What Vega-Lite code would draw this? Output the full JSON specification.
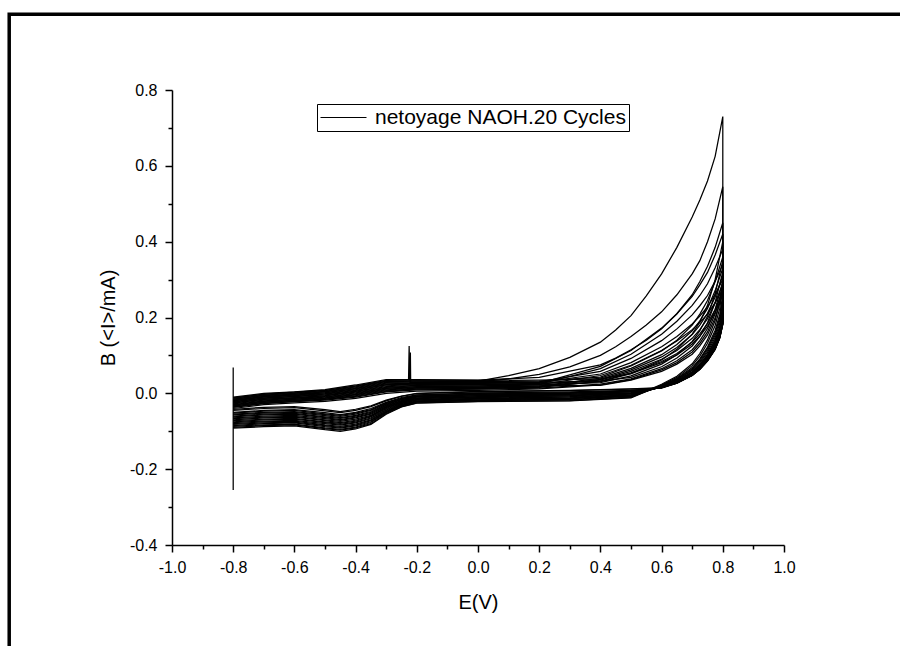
{
"$schema":"https://vega.github.io/schema/vega-lite/v6.json",
"width":612,"height":455,
"autosize":"none",
"padding":{"left":172,"top":90,"right":116,"bottom":101},
"background":"white",
"config":{"view":{"stroke":null},"font":"Liberation Sans"},
"resolve":{"axis":{"x":"independent","y":"independent"}},
"layer":[
{"data":{"values":[{"x1":-1.532,"x2":3,"y1":0.9997,"y2":-3}]},
 "mark":{"type":"rect","fillOpacity":0,"stroke":"black","strokeWidth":3.5},
 "encoding":{
  "x":{"field":"x1","type":"quantitative","scale":{"domain":[-1,1],"nice":false,"zero":false},
   "axis":{"orient":"bottom","values":[-0.9,-0.7,-0.5,-0.3,-0.1,0.1,0.3,0.5,0.7,0.9],"labels":false,"tickSize":4,"tickWidth":1.5,"tickColor":"black","domain":false,"grid":false,"title":null}},
  "x2":{"field":"x2"},
  "y":{"field":"y1","type":"quantitative","scale":{"domain":[-0.4,0.8],"nice":false,"zero":false},
   "axis":{"orient":"left","values":[-0.3,-0.1,0.1,0.3,0.5,0.7],"labels":false,"tickSize":4,"tickWidth":1.5,"tickColor":"black","domain":false,"grid":false,"title":null}},
  "y2":{"field":"y2"}
 }},
{"data":{"values":[
{"c":1,"i":0,"E":-0.8,"I":-0.255},{"c":1,"i":0.5,"E":-0.8,"I":0.068},
{"c":1,"i":1,"E":-0.8,"I":-0.013},{"c":1,"i":2,"E":-0.7,"I":-0.003},{"c":1,"i":3,"E":-0.6,"I":0.001},{"c":1,"i":4,"E":-0.5,"I":0.007},{"c":1,"i":5,"E":-0.4,"I":0.019},{"c":1,"i":6,"E":-0.3,"I":0.032},{"c":1,"i":7,"E":-0.2,"I":0.033},{"c":1,"i":8,"E":0,"I":0.032},{"c":1,"i":8.5,"E":0.1,"I":0.047},{"c":1,"i":9,"E":0.2,"I":0.065},{"c":1,"i":9.5,"E":0.3,"I":0.095},{"c":1,"i":10,"E":0.4,"I":0.135},{"c":1,"i":10.5,"E":0.45,"I":0.167},{"c":1,"i":11,"E":0.5,"I":0.205},{"c":1,"i":11.5,"E":0.55,"I":0.257},{"c":1,"i":12,"E":0.6,"I":0.315},{"c":1,"i":13,"E":0.65,"I":0.385},{"c":1,"i":14,"E":0.7,"I":0.465},{"c":1,"i":15,"E":0.725,"I":0.51},{"c":1,"i":16,"E":0.75,"I":0.56},{"c":1,"i":17,"E":0.775,"I":0.625},{"c":1,"i":18,"E":0.8,"I":0.73},
{"c":1,"i":19,"E":0.8,"I":0.30},{"c":1,"i":20,"E":0.79,"I":0.24},{"c":1,"i":21,"E":0.775,"I":0.192},{"c":1,"i":22,"E":0.75,"I":0.141},{"c":1,"i":23,"E":0.725,"I":0.105},{"c":1,"i":24,"E":0.7,"I":0.078},{"c":1,"i":25,"E":0.65,"I":0.045},{"c":1,"i":26,"E":0.6,"I":0.024},{"c":1,"i":27,"E":0.5,"I":-0.011},{"c":1,"i":28,"E":0.3,"I":-0.019},{"c":1,"i":29,"E":0,"I":-0.021},{"c":1,"i":30,"E":-0.2,"I":-0.025},{"c":1,"i":30.5,"E":-0.25,"I":-0.035},{"c":1,"i":31,"E":-0.3,"I":-0.053},{"c":1,"i":32,"E":-0.35,"I":-0.080},{"c":1,"i":33,"E":-0.4,"I":-0.091},{"c":1,"i":34,"E":-0.45,"I":-0.097},{"c":1,"i":35,"E":-0.5,"I":-0.093},{"c":1,"i":36,"E":-0.6,"I":-0.083},{"c":1,"i":37,"E":-0.7,"I":-0.085},{"c":1,"i":38,"E":-0.8,"I":-0.090},
{"c":2,"i":1,"E":-0.8,"I":-0.016},{"c":2,"i":2,"E":-0.7,"I":-0.006},{"c":2,"i":3,"E":-0.6,"I":-0.002},{"c":2,"i":4,"E":-0.5,"I":0.004},{"c":2,"i":5,"E":-0.4,"I":0.015},{"c":2,"i":6,"E":-0.3,"I":0.029},{"c":2,"i":7,"E":-0.2,"I":0.030},{"c":2,"i":8,"E":0,"I":0.030},{"c":2,"i":8.5,"E":0.1,"I":0.038},{"c":2,"i":9,"E":0.2,"I":0.05},{"c":2,"i":9.5,"E":0.3,"I":0.07},{"c":2,"i":10,"E":0.4,"I":0.10},{"c":2,"i":10.5,"E":0.45,"I":0.123},{"c":2,"i":11,"E":0.5,"I":0.15},{"c":2,"i":11.5,"E":0.55,"I":0.18},{"c":2,"i":12,"E":0.6,"I":0.215},{"c":2,"i":13,"E":0.65,"I":0.26},{"c":2,"i":14,"E":0.7,"I":0.315},{"c":2,"i":15,"E":0.725,"I":0.35},{"c":2,"i":16,"E":0.75,"I":0.40},{"c":2,"i":17,"E":0.775,"I":0.46},{"c":2,"i":18,"E":0.8,"I":0.545},
{"c":2,"i":19,"E":0.8,"I":0.28},{"c":2,"i":20,"E":0.79,"I":0.224},{"c":2,"i":21,"E":0.775,"I":0.179},{"c":2,"i":22,"E":0.75,"I":0.132},{"c":2,"i":23,"E":0.725,"I":0.098},{"c":2,"i":24,"E":0.7,"I":0.073},{"c":2,"i":25,"E":0.65,"I":0.042},{"c":2,"i":26,"E":0.6,"I":0.022},{"c":2,"i":27,"E":0.5,"I":-0.012},{"c":2,"i":28,"E":0.3,"I":-0.020},{"c":2,"i":29,"E":0,"I":-0.022},{"c":2,"i":30,"E":-0.2,"I":-0.026},{"c":2,"i":30.5,"E":-0.25,"I":-0.036},{"c":2,"i":31,"E":-0.3,"I":-0.055},{"c":2,"i":32,"E":-0.35,"I":-0.082},{"c":2,"i":33,"E":-0.4,"I":-0.094},{"c":2,"i":34,"E":-0.45,"I":-0.100},{"c":2,"i":35,"E":-0.5,"I":-0.096},{"c":2,"i":36,"E":-0.6,"I":-0.086},{"c":2,"i":37,"E":-0.7,"I":-0.088},{"c":2,"i":38,"E":-0.8,"I":-0.092},
{"c":3,"i":1,"E":-0.8,"I":-0.010},{"c":3,"i":2,"E":-0.7,"I":0.000},{"c":3,"i":3,"E":-0.6,"I":0.004},{"c":3,"i":4,"E":-0.5,"I":0.010},{"c":3,"i":5,"E":-0.4,"I":0.022},{"c":3,"i":6,"E":-0.3,"I":0.036},{"c":3,"i":7,"E":-0.2,"I":0.036},{"c":3,"i":8,"E":0,"I":0.035},{"c":3,"i":9,"E":0.2,"I":0.042},{"c":3,"i":10,"E":0.4,"I":0.075},{"c":3,"i":10.5,"E":0.45,"I":0.093},{"c":3,"i":11,"E":0.5,"I":0.115},{"c":3,"i":11.5,"E":0.55,"I":0.14},{"c":3,"i":12,"E":0.6,"I":0.17},{"c":3,"i":13,"E":0.65,"I":0.21},{"c":3,"i":14,"E":0.7,"I":0.26},{"c":3,"i":15,"E":0.725,"I":0.295},{"c":3,"i":16,"E":0.75,"I":0.335},{"c":3,"i":17,"E":0.775,"I":0.385},{"c":3,"i":18,"E":0.8,"I":0.45},
{"c":3,"i":19,"E":0.8,"I":0.26},{"c":3,"i":20,"E":0.79,"I":0.208},{"c":3,"i":21,"E":0.775,"I":0.166},{"c":3,"i":22,"E":0.75,"I":0.122},{"c":3,"i":23,"E":0.725,"I":0.091},{"c":3,"i":24,"E":0.7,"I":0.068},{"c":3,"i":25,"E":0.65,"I":0.039},{"c":3,"i":26,"E":0.6,"I":0.021},{"c":3,"i":27,"E":0.5,"I":-0.008},{"c":3,"i":28,"E":0.3,"I":-0.016},{"c":3,"i":29,"E":0,"I":-0.018},{"c":3,"i":30,"E":-0.2,"I":-0.022},{"c":3,"i":30.5,"E":-0.25,"I":-0.032},{"c":3,"i":31,"E":-0.3,"I":-0.049},{"c":3,"i":32,"E":-0.35,"I":-0.075},{"c":3,"i":33,"E":-0.4,"I":-0.086},{"c":3,"i":34,"E":-0.45,"I":-0.092},{"c":3,"i":35,"E":-0.5,"I":-0.088},{"c":3,"i":36,"E":-0.6,"I":-0.078},{"c":3,"i":37,"E":-0.7,"I":-0.080},{"c":3,"i":38,"E":-0.8,"I":-0.085},
{"c":4,"i":1,"E":-0.8,"I":-0.022},{"c":4,"i":2,"E":-0.7,"I":-0.012},{"c":4,"i":3,"E":-0.6,"I":-0.008},{"c":4,"i":4,"E":-0.5,"I":-0.002},{"c":4,"i":5,"E":-0.4,"I":0.008},{"c":4,"i":6,"E":-0.3,"I":0.022},{"c":4,"i":7,"E":-0.2,"I":0.024},{"c":4,"i":8,"E":0,"I":0.024},{"c":4,"i":9,"E":0.2,"I":0.026},{"c":4,"i":10,"E":0.4,"I":0.071},{"c":4,"i":11,"E":0.5,"I":0.113},{"c":4,"i":12,"E":0.6,"I":0.172},{"c":4,"i":13,"E":0.65,"I":0.21},{"c":4,"i":14,"E":0.7,"I":0.256},{"c":4,"i":15,"E":0.725,"I":0.286},{"c":4,"i":16,"E":0.75,"I":0.319},{"c":4,"i":17,"E":0.775,"I":0.365},{"c":4,"i":18,"E":0.8,"I":0.42},
{"c":4,"i":19,"E":0.8,"I":0.25},{"c":4,"i":20,"E":0.79,"I":0.20},{"c":4,"i":21,"E":0.775,"I":0.16},{"c":4,"i":22,"E":0.75,"I":0.118},{"c":4,"i":23,"E":0.725,"I":0.088},{"c":4,"i":24,"E":0.7,"I":0.065},{"c":4,"i":25,"E":0.65,"I":0.038},{"c":4,"i":26,"E":0.6,"I":0.02},{"c":4,"i":27,"E":0.5,"I":-0.010},{"c":4,"i":28,"E":0.3,"I":-0.017},{"c":4,"i":29,"E":0,"I":-0.019},{"c":4,"i":30,"E":-0.2,"I":-0.023},{"c":4,"i":30.5,"E":-0.25,"I":-0.033},{"c":4,"i":31,"E":-0.3,"I":-0.051},{"c":4,"i":32,"E":-0.35,"I":-0.077},{"c":4,"i":33,"E":-0.4,"I":-0.089},{"c":4,"i":34,"E":-0.45,"I":-0.095},{"c":4,"i":35,"E":-0.5,"I":-0.091},{"c":4,"i":36,"E":-0.6,"I":-0.081},{"c":4,"i":37,"E":-0.7,"I":-0.083},{"c":4,"i":38,"E":-0.8,"I":-0.087},
{"c":5,"i":1,"E":-0.8,"I":-0.012},{"c":5,"i":2,"E":-0.7,"I":-0.002},{"c":5,"i":3,"E":-0.6,"I":0.003},{"c":5,"i":4,"E":-0.5,"I":0.008},{"c":5,"i":5,"E":-0.4,"I":0.020},{"c":5,"i":6,"E":-0.3,"I":0.034},{"c":5,"i":6.3,"E":-0.227,"I":0.035},{"c":5,"i":6.5,"E":-0.225,"I":0.125},{"c":5,"i":6.7,"E":-0.223,"I":0.035},{"c":5,"i":7,"E":-0.2,"I":0.035},{"c":5,"i":8,"E":0,"I":0.034},{"c":5,"i":9,"E":0.2,"I":0.035},{"c":5,"i":10,"E":0.4,"I":0.038},{"c":5,"i":11,"E":0.5,"I":0.052},{"c":5,"i":12,"E":0.6,"I":0.088},{"c":5,"i":13,"E":0.65,"I":0.116},{"c":5,"i":14,"E":0.7,"I":0.156},{"c":5,"i":15,"E":0.725,"I":0.188},{"c":5,"i":16,"E":0.75,"I":0.232},{"c":5,"i":17,"E":0.775,"I":0.30},{"c":5,"i":18,"E":0.8,"I":0.40},
{"c":5,"i":19,"E":0.8,"I":0.24},{"c":5,"i":20,"E":0.79,"I":0.192},{"c":5,"i":21,"E":0.775,"I":0.154},{"c":5,"i":22,"E":0.75,"I":0.113},{"c":5,"i":23,"E":0.725,"I":0.084},{"c":5,"i":24,"E":0.7,"I":0.062},{"c":5,"i":25,"E":0.65,"I":0.036},{"c":5,"i":26,"E":0.6,"I":0.019},{"c":5,"i":27,"E":0.5,"I":-0.006},{"c":5,"i":28,"E":0.3,"I":-0.013},{"c":5,"i":29,"E":0,"I":-0.015},{"c":5,"i":30,"E":-0.2,"I":-0.020},{"c":5,"i":30.5,"E":-0.25,"I":-0.029},{"c":5,"i":31,"E":-0.3,"I":-0.046},{"c":5,"i":32,"E":-0.35,"I":-0.070},{"c":5,"i":33,"E":-0.4,"I":-0.081},{"c":5,"i":34,"E":-0.45,"I":-0.087},{"c":5,"i":35,"E":-0.5,"I":-0.083},{"c":5,"i":36,"E":-0.6,"I":-0.073},{"c":5,"i":37,"E":-0.7,"I":-0.075},{"c":5,"i":38,"E":-0.8,"I":-0.080},
{"c":6,"i":1,"E":-0.8,"I":-0.025},{"c":6,"i":2,"E":-0.7,"I":-0.015},{"c":6,"i":3,"E":-0.6,"I":-0.011},{"c":6,"i":4,"E":-0.5,"I":-0.006},{"c":6,"i":5,"E":-0.4,"I":0.005},{"c":6,"i":6,"E":-0.3,"I":0.018},{"c":6,"i":7,"E":-0.2,"I":0.021},{"c":6,"i":8,"E":0,"I":0.022},{"c":6,"i":9,"E":0.2,"I":0.024},{"c":6,"i":10,"E":0.4,"I":0.065},{"c":6,"i":11,"E":0.5,"I":0.103},{"c":6,"i":12,"E":0.6,"I":0.156},{"c":6,"i":13,"E":0.65,"I":0.19},{"c":6,"i":14,"E":0.7,"I":0.232},{"c":6,"i":15,"E":0.725,"I":0.258},{"c":6,"i":16,"E":0.75,"I":0.289},{"c":6,"i":17,"E":0.775,"I":0.331},{"c":6,"i":18,"E":0.8,"I":0.38},
{"c":6,"i":19,"E":0.8,"I":0.23},{"c":6,"i":20,"E":0.79,"I":0.184},{"c":6,"i":21,"E":0.775,"I":0.147},{"c":6,"i":22,"E":0.75,"I":0.108},{"c":6,"i":23,"E":0.725,"I":0.081},{"c":6,"i":24,"E":0.7,"I":0.060},{"c":6,"i":25,"E":0.65,"I":0.035},{"c":6,"i":26,"E":0.6,"I":0.018},{"c":6,"i":27,"E":0.5,"I":-0.007},{"c":6,"i":28,"E":0.3,"I":-0.014},{"c":6,"i":29,"E":0,"I":-0.017},{"c":6,"i":30,"E":-0.2,"I":-0.021},{"c":6,"i":30.5,"E":-0.25,"I":-0.030},{"c":6,"i":31,"E":-0.3,"I":-0.048},{"c":6,"i":32,"E":-0.35,"I":-0.072},{"c":6,"i":33,"E":-0.4,"I":-0.084},{"c":6,"i":34,"E":-0.45,"I":-0.090},{"c":6,"i":35,"E":-0.5,"I":-0.085},{"c":6,"i":36,"E":-0.6,"I":-0.076},{"c":6,"i":37,"E":-0.7,"I":-0.078},{"c":6,"i":38,"E":-0.8,"I":-0.082},
{"c":7,"i":1,"E":-0.8,"I":-0.015},{"c":7,"i":2,"E":-0.7,"I":-0.005},{"c":7,"i":3,"E":-0.6,"I":0.000},{"c":7,"i":4,"E":-0.5,"I":0.005},{"c":7,"i":5,"E":-0.4,"I":0.017},{"c":7,"i":6,"E":-0.3,"I":0.031},{"c":7,"i":7,"E":-0.2,"I":0.032},{"c":7,"i":8,"E":0,"I":0.031},{"c":7,"i":9,"E":0.2,"I":0.032},{"c":7,"i":10,"E":0.4,"I":0.043},{"c":7,"i":11,"E":0.5,"I":0.072},{"c":7,"i":12,"E":0.6,"I":0.112},{"c":7,"i":13,"E":0.65,"I":0.14},{"c":7,"i":14,"E":0.7,"I":0.18},{"c":7,"i":15,"E":0.725,"I":0.209},{"c":7,"i":16,"E":0.75,"I":0.245},{"c":7,"i":17,"E":0.775,"I":0.295},{"c":7,"i":18,"E":0.8,"I":0.36},
{"c":7,"i":19,"E":0.8,"I":0.22},{"c":7,"i":20,"E":0.79,"I":0.176},{"c":7,"i":21,"E":0.775,"I":0.141},{"c":7,"i":22,"E":0.75,"I":0.103},{"c":7,"i":23,"E":0.725,"I":0.077},{"c":7,"i":24,"E":0.7,"I":0.057},{"c":7,"i":25,"E":0.65,"I":0.033},{"c":7,"i":26,"E":0.6,"I":0.018},{"c":7,"i":27,"E":0.5,"I":-0.004},{"c":7,"i":28,"E":0.3,"I":-0.010},{"c":7,"i":29,"E":0,"I":-0.013},{"c":7,"i":30,"E":-0.2,"I":-0.017},{"c":7,"i":30.5,"E":-0.25,"I":-0.026},{"c":7,"i":31,"E":-0.3,"I":-0.042},{"c":7,"i":32,"E":-0.35,"I":-0.065},{"c":7,"i":33,"E":-0.4,"I":-0.076},{"c":7,"i":34,"E":-0.45,"I":-0.082},{"c":7,"i":35,"E":-0.5,"I":-0.077},{"c":7,"i":36,"E":-0.6,"I":-0.068},{"c":7,"i":37,"E":-0.7,"I":-0.070},{"c":7,"i":38,"E":-0.8,"I":-0.075},
{"c":8,"i":1,"E":-0.8,"I":-0.028},{"c":8,"i":2,"E":-0.7,"I":-0.018},{"c":8,"i":3,"E":-0.6,"I":-0.013},{"c":8,"i":4,"E":-0.5,"I":-0.009},{"c":8,"i":5,"E":-0.4,"I":0.001},{"c":8,"i":6,"E":-0.3,"I":0.014},{"c":8,"i":7,"E":-0.2,"I":0.018},{"c":8,"i":8,"E":0,"I":0.019},{"c":8,"i":9,"E":0.2,"I":0.022},{"c":8,"i":10,"E":0.4,"I":0.028},{"c":8,"i":11,"E":0.5,"I":0.046},{"c":8,"i":12,"E":0.6,"I":0.077},{"c":8,"i":13,"E":0.65,"I":0.102},{"c":8,"i":14,"E":0.7,"I":0.137},{"c":8,"i":15,"E":0.725,"I":0.165},{"c":8,"i":16,"E":0.75,"I":0.203},{"c":8,"i":17,"E":0.775,"I":0.263},{"c":8,"i":18,"E":0.8,"I":0.35},
{"c":8,"i":19,"E":0.8,"I":0.215},{"c":8,"i":20,"E":0.79,"I":0.172},{"c":8,"i":21,"E":0.775,"I":0.138},{"c":8,"i":22,"E":0.75,"I":0.101},{"c":8,"i":23,"E":0.725,"I":0.075},{"c":8,"i":24,"E":0.7,"I":0.056},{"c":8,"i":25,"E":0.65,"I":0.032},{"c":8,"i":26,"E":0.6,"I":0.017},{"c":8,"i":27,"E":0.5,"I":-0.005},{"c":8,"i":28,"E":0.3,"I":-0.012},{"c":8,"i":29,"E":0,"I":-0.014},{"c":8,"i":30,"E":-0.2,"I":-0.018},{"c":8,"i":30.5,"E":-0.25,"I":-0.027},{"c":8,"i":31,"E":-0.3,"I":-0.044},{"c":8,"i":32,"E":-0.35,"I":-0.067},{"c":8,"i":33,"E":-0.4,"I":-0.078},{"c":8,"i":34,"E":-0.45,"I":-0.084},{"c":8,"i":35,"E":-0.5,"I":-0.080},{"c":8,"i":36,"E":-0.6,"I":-0.071},{"c":8,"i":37,"E":-0.7,"I":-0.073},{"c":8,"i":38,"E":-0.8,"I":-0.077},
{"c":9,"i":1,"E":-0.8,"I":-0.018},{"c":9,"i":2,"E":-0.7,"I":-0.008},{"c":9,"i":3,"E":-0.6,"I":-0.003},{"c":9,"i":4,"E":-0.5,"I":0.002},{"c":9,"i":5,"E":-0.4,"I":0.013},{"c":9,"i":6,"E":-0.3,"I":0.027},{"c":9,"i":6.3,"E":-0.222,"I":0.028},{"c":9,"i":6.5,"E":-0.221,"I":0.108},{"c":9,"i":6.7,"E":-0.22,"I":0.028},{"c":9,"i":7,"E":-0.2,"I":0.029},{"c":9,"i":8,"E":0,"I":0.028},{"c":9,"i":9,"E":0.2,"I":0.030},{"c":9,"i":10,"E":0.4,"I":0.058},{"c":9,"i":11,"E":0.5,"I":0.092},{"c":9,"i":12,"E":0.6,"I":0.139},{"c":9,"i":13,"E":0.65,"I":0.17},{"c":9,"i":14,"E":0.7,"I":0.207},{"c":9,"i":15,"E":0.725,"I":0.231},{"c":9,"i":16,"E":0.75,"I":0.258},{"c":9,"i":17,"E":0.775,"I":0.296},{"c":9,"i":18,"E":0.8,"I":0.34},
{"c":9,"i":19,"E":0.8,"I":0.21},{"c":9,"i":20,"E":0.79,"I":0.168},{"c":9,"i":21,"E":0.775,"I":0.134},{"c":9,"i":22,"E":0.75,"I":0.099},{"c":9,"i":23,"E":0.725,"I":0.074},{"c":9,"i":24,"E":0.7,"I":0.055},{"c":9,"i":25,"E":0.65,"I":0.032},{"c":9,"i":26,"E":0.6,"I":0.017},{"c":9,"i":27,"E":0.5,"I":-0.001},{"c":9,"i":28,"E":0.3,"I":-0.007},{"c":9,"i":29,"E":0,"I":-0.010},{"c":9,"i":30,"E":-0.2,"I":-0.014},{"c":9,"i":30.5,"E":-0.25,"I":-0.023},{"c":9,"i":31,"E":-0.3,"I":-0.038},{"c":9,"i":32,"E":-0.35,"I":-0.060},{"c":9,"i":33,"E":-0.4,"I":-0.071},{"c":9,"i":34,"E":-0.45,"I":-0.077},{"c":9,"i":35,"E":-0.5,"I":-0.072},{"c":9,"i":36,"E":-0.6,"I":-0.063},{"c":9,"i":37,"E":-0.7,"I":-0.065},{"c":9,"i":38,"E":-0.8,"I":-0.070},
{"c":10,"i":1,"E":-0.8,"I":-0.031},{"c":10,"i":2,"E":-0.7,"I":-0.021},{"c":10,"i":3,"E":-0.6,"I":-0.016},{"c":10,"i":4,"E":-0.5,"I":-0.012},{"c":10,"i":5,"E":-0.4,"I":-0.003},{"c":10,"i":6,"E":-0.3,"I":0.011},{"c":10,"i":7,"E":-0.2,"I":0.015},{"c":10,"i":8,"E":0,"I":0.016},{"c":10,"i":9,"E":0.2,"I":0.019},{"c":10,"i":10,"E":0.4,"I":0.04},{"c":10,"i":11,"E":0.5,"I":0.066},{"c":10,"i":12,"E":0.6,"I":0.102},{"c":10,"i":13,"E":0.65,"I":0.129},{"c":10,"i":14,"E":0.7,"I":0.165},{"c":10,"i":15,"E":0.725,"I":0.191},{"c":10,"i":16,"E":0.75,"I":0.224},{"c":10,"i":17,"E":0.775,"I":0.271},{"c":10,"i":18,"E":0.8,"I":0.33},
{"c":10,"i":19,"E":0.8,"I":0.205},{"c":10,"i":20,"E":0.79,"I":0.164},{"c":10,"i":21,"E":0.775,"I":0.131},{"c":10,"i":22,"E":0.75,"I":0.096},{"c":10,"i":23,"E":0.725,"I":0.072},{"c":10,"i":24,"E":0.7,"I":0.053},{"c":10,"i":25,"E":0.65,"I":0.031},{"c":10,"i":26,"E":0.6,"I":0.016},{"c":10,"i":27,"E":0.5,"I":-0.002},{"c":10,"i":28,"E":0.3,"I":-0.009},{"c":10,"i":29,"E":0,"I":-0.011},{"c":10,"i":30,"E":-0.2,"I":-0.016},{"c":10,"i":30.5,"E":-0.25,"I":-0.024},{"c":10,"i":31,"E":-0.3,"I":-0.040},{"c":10,"i":32,"E":-0.35,"I":-0.062},{"c":10,"i":33,"E":-0.4,"I":-0.073},{"c":10,"i":34,"E":-0.45,"I":-0.079},{"c":10,"i":35,"E":-0.5,"I":-0.075},{"c":10,"i":36,"E":-0.6,"I":-0.066},{"c":10,"i":37,"E":-0.7,"I":-0.068},{"c":10,"i":38,"E":-0.8,"I":-0.072},
{"c":11,"i":1,"E":-0.8,"I":-0.019},{"c":11,"i":2,"E":-0.7,"I":-0.009},{"c":11,"i":3,"E":-0.6,"I":-0.005},{"c":11,"i":4,"E":-0.5,"I":0.001},{"c":11,"i":5,"E":-0.4,"I":0.012},{"c":11,"i":6,"E":-0.3,"I":0.025},{"c":11,"i":7,"E":-0.2,"I":0.027},{"c":11,"i":8,"E":0,"I":0.027},{"c":11,"i":9,"E":0.2,"I":0.029},{"c":11,"i":10,"E":0.4,"I":0.032},{"c":11,"i":11,"E":0.5,"I":0.042},{"c":11,"i":12,"E":0.6,"I":0.07},{"c":11,"i":13,"E":0.65,"I":0.093},{"c":11,"i":14,"E":0.7,"I":0.125},{"c":11,"i":15,"E":0.725,"I":0.15},{"c":11,"i":16,"E":0.75,"I":0.186},{"c":11,"i":17,"E":0.775,"I":0.24},{"c":11,"i":18,"E":0.8,"I":0.32},
{"c":11,"i":19,"E":0.8,"I":0.20},{"c":11,"i":20,"E":0.79,"I":0.16},{"c":11,"i":21,"E":0.775,"I":0.128},{"c":11,"i":22,"E":0.75,"I":0.094},{"c":11,"i":23,"E":0.725,"I":0.07},{"c":11,"i":24,"E":0.7,"I":0.052},{"c":11,"i":25,"E":0.65,"I":0.03},{"c":11,"i":26,"E":0.6,"I":0.016},{"c":11,"i":27,"E":0.5,"I":0.001},{"c":11,"i":28,"E":0.3,"I":-0.005},{"c":11,"i":29,"E":0,"I":-0.007},{"c":11,"i":30,"E":-0.2,"I":-0.012},{"c":11,"i":30.5,"E":-0.25,"I":-0.020},{"c":11,"i":31,"E":-0.3,"I":-0.035},{"c":11,"i":32,"E":-0.35,"I":-0.055},{"c":11,"i":33,"E":-0.4,"I":-0.065},{"c":11,"i":34,"E":-0.45,"I":-0.071},{"c":11,"i":35,"E":-0.5,"I":-0.067},{"c":11,"i":36,"E":-0.6,"I":-0.058},{"c":11,"i":37,"E":-0.7,"I":-0.060},{"c":11,"i":38,"E":-0.8,"I":-0.065},
{"c":12,"i":1,"E":-0.8,"I":-0.034},{"c":12,"i":2,"E":-0.7,"I":-0.024},{"c":12,"i":3,"E":-0.6,"I":-0.019},{"c":12,"i":4,"E":-0.5,"I":-0.015},{"c":12,"i":5,"E":-0.4,"I":-0.006},{"c":12,"i":6,"E":-0.3,"I":0.007},{"c":12,"i":7,"E":-0.2,"I":0.012},{"c":12,"i":8,"E":0,"I":0.013},{"c":12,"i":9,"E":0.2,"I":0.017},{"c":12,"i":10,"E":0.4,"I":0.037},{"c":12,"i":11,"E":0.5,"I":0.062},{"c":12,"i":12,"E":0.6,"I":0.096},{"c":12,"i":13,"E":0.65,"I":0.121},{"c":12,"i":14,"E":0.7,"I":0.155},{"c":12,"i":15,"E":0.725,"I":0.18},{"c":12,"i":16,"E":0.75,"I":0.211},{"c":12,"i":17,"E":0.775,"I":0.254},{"c":12,"i":18,"E":0.8,"I":0.31},
{"c":12,"i":19,"E":0.8,"I":0.195},{"c":12,"i":20,"E":0.79,"I":0.156},{"c":12,"i":21,"E":0.775,"I":0.125},{"c":12,"i":22,"E":0.75,"I":0.092},{"c":12,"i":23,"E":0.725,"I":0.068},{"c":12,"i":24,"E":0.7,"I":0.051},{"c":12,"i":25,"E":0.65,"I":0.029},{"c":12,"i":26,"E":0.6,"I":0.016},{"c":12,"i":27,"E":0.5,"I":0.000},{"c":12,"i":28,"E":0.3,"I":-0.006},{"c":12,"i":29,"E":0,"I":-0.009},{"c":12,"i":30,"E":-0.2,"I":-0.013},{"c":12,"i":30.5,"E":-0.25,"I":-0.022},{"c":12,"i":31,"E":-0.3,"I":-0.037},{"c":12,"i":32,"E":-0.35,"I":-0.058},{"c":12,"i":33,"E":-0.4,"I":-0.068},{"c":12,"i":34,"E":-0.45,"I":-0.074},{"c":12,"i":35,"E":-0.5,"I":-0.070},{"c":12,"i":36,"E":-0.6,"I":-0.061},{"c":12,"i":37,"E":-0.7,"I":-0.063},{"c":12,"i":38,"E":-0.8,"I":-0.067},
{"c":13,"i":1,"E":-0.8,"I":-0.020},{"c":13,"i":2,"E":-0.7,"I":-0.010},{"c":13,"i":3,"E":-0.6,"I":-0.006},{"c":13,"i":4,"E":-0.5,"I":-0.001},{"c":13,"i":5,"E":-0.4,"I":0.010},{"c":13,"i":6,"E":-0.3,"I":0.023},{"c":13,"i":7,"E":-0.2,"I":0.026},{"c":13,"i":8,"E":0,"I":0.026},{"c":13,"i":9,"E":0.2,"I":0.028},{"c":13,"i":10,"E":0.4,"I":0.051},{"c":13,"i":11,"E":0.5,"I":0.081},{"c":13,"i":12,"E":0.6,"I":0.123},{"c":13,"i":13,"E":0.65,"I":0.15},{"c":13,"i":14,"E":0.7,"I":0.183},{"c":13,"i":15,"E":0.725,"I":0.204},{"c":13,"i":16,"E":0.75,"I":0.228},{"c":13,"i":17,"E":0.775,"I":0.261},{"c":13,"i":18,"E":0.8,"I":0.30},
{"c":13,"i":19,"E":0.8,"I":0.19},{"c":13,"i":20,"E":0.79,"I":0.152},{"c":13,"i":21,"E":0.775,"I":0.122},{"c":13,"i":22,"E":0.75,"I":0.089},{"c":13,"i":23,"E":0.725,"I":0.067},{"c":13,"i":24,"E":0.7,"I":0.049},{"c":13,"i":25,"E":0.65,"I":0.029},{"c":13,"i":26,"E":0.6,"I":0.015},{"c":13,"i":27,"E":0.5,"I":0.004},{"c":13,"i":28,"E":0.3,"I":-0.002},{"c":13,"i":29,"E":0,"I":-0.004},{"c":13,"i":30,"E":-0.2,"I":-0.009},{"c":13,"i":30.5,"E":-0.25,"I":-0.017},{"c":13,"i":31,"E":-0.3,"I":-0.031},{"c":13,"i":32,"E":-0.35,"I":-0.050},{"c":13,"i":33,"E":-0.4,"I":-0.060},{"c":13,"i":34,"E":-0.45,"I":-0.066},{"c":13,"i":35,"E":-0.5,"I":-0.062},{"c":13,"i":36,"E":-0.6,"I":-0.053},{"c":13,"i":37,"E":-0.7,"I":-0.055},{"c":13,"i":38,"E":-0.8,"I":-0.060},
{"c":14,"i":1,"E":-0.8,"I":-0.037},{"c":14,"i":2,"E":-0.7,"I":-0.027},{"c":14,"i":3,"E":-0.6,"I":-0.022},{"c":14,"i":4,"E":-0.5,"I":-0.018},{"c":14,"i":5,"E":-0.4,"I":-0.010},{"c":14,"i":6,"E":-0.3,"I":0.004},{"c":14,"i":7,"E":-0.2,"I":0.009},{"c":14,"i":8,"E":0,"I":0.011},{"c":14,"i":9,"E":0.2,"I":0.014},{"c":14,"i":10,"E":0.4,"I":0.024},{"c":14,"i":11,"E":0.5,"I":0.038},{"c":14,"i":12,"E":0.6,"I":0.065},{"c":14,"i":13,"E":0.65,"I":0.086},{"c":14,"i":14,"E":0.7,"I":0.115},{"c":14,"i":15,"E":0.725,"I":0.139},{"c":14,"i":16,"E":0.75,"I":0.171},{"c":14,"i":17,"E":0.775,"I":0.221},{"c":14,"i":18,"E":0.8,"I":0.295},
{"c":14,"i":19,"E":0.8,"I":0.19},{"c":14,"i":20,"E":0.79,"I":0.153},{"c":14,"i":21,"E":0.775,"I":0.121},{"c":14,"i":22,"E":0.75,"I":0.090},{"c":14,"i":23,"E":0.725,"I":0.066},{"c":14,"i":24,"E":0.7,"I":0.050},{"c":14,"i":25,"E":0.65,"I":0.028},{"c":14,"i":26,"E":0.6,"I":0.016},{"c":14,"i":27,"E":0.5,"I":0.002},{"c":14,"i":28,"E":0.3,"I":-0.003},{"c":14,"i":29,"E":0,"I":-0.006},{"c":14,"i":30,"E":-0.2,"I":-0.010},{"c":14,"i":30.5,"E":-0.25,"I":-0.019},{"c":14,"i":31,"E":-0.3,"I":-0.033},{"c":14,"i":32,"E":-0.35,"I":-0.053},{"c":14,"i":33,"E":-0.4,"I":-0.063},{"c":14,"i":34,"E":-0.45,"I":-0.069},{"c":14,"i":35,"E":-0.5,"I":-0.064},{"c":14,"i":36,"E":-0.6,"I":-0.055},{"c":14,"i":37,"E":-0.7,"I":-0.057},{"c":14,"i":38,"E":-0.8,"I":-0.062},
{"c":15,"i":1,"E":-0.8,"I":-0.023},{"c":15,"i":2,"E":-0.7,"I":-0.013},{"c":15,"i":3,"E":-0.6,"I":-0.009},{"c":15,"i":4,"E":-0.5,"I":-0.004},{"c":15,"i":5,"E":-0.4,"I":0.006},{"c":15,"i":6,"E":-0.3,"I":0.020},{"c":15,"i":7,"E":-0.2,"I":0.023},{"c":15,"i":8,"E":0,"I":0.023},{"c":15,"i":9,"E":0.2,"I":0.025},{"c":15,"i":10,"E":0.4,"I":0.035},{"c":15,"i":11,"E":0.5,"I":0.058},{"c":15,"i":12,"E":0.6,"I":0.09},{"c":15,"i":13,"E":0.65,"I":0.113},{"c":15,"i":14,"E":0.7,"I":0.145},{"c":15,"i":15,"E":0.725,"I":0.168},{"c":15,"i":16,"E":0.75,"I":0.197},{"c":15,"i":17,"E":0.775,"I":0.238},{"c":15,"i":18,"E":0.8,"I":0.29},
{"c":15,"i":19,"E":0.8,"I":0.187},{"c":15,"i":20,"E":0.79,"I":0.15},{"c":15,"i":21,"E":0.775,"I":0.12},{"c":15,"i":22,"E":0.75,"I":0.088},{"c":15,"i":23,"E":0.725,"I":0.065},{"c":15,"i":24,"E":0.7,"I":0.049},{"c":15,"i":25,"E":0.65,"I":0.028},{"c":15,"i":26,"E":0.6,"I":0.015},{"c":15,"i":27,"E":0.5,"I":0.006},{"c":15,"i":28,"E":0.3,"I":0.001},{"c":15,"i":29,"E":0,"I":-0.002},{"c":15,"i":30,"E":-0.2,"I":-0.007},{"c":15,"i":30.5,"E":-0.25,"I":-0.014},{"c":15,"i":31,"E":-0.3,"I":-0.027},{"c":15,"i":32,"E":-0.35,"I":-0.045},{"c":15,"i":33,"E":-0.4,"I":-0.055},{"c":15,"i":34,"E":-0.45,"I":-0.061},{"c":15,"i":35,"E":-0.5,"I":-0.056},{"c":15,"i":36,"E":-0.6,"I":-0.048},{"c":15,"i":37,"E":-0.7,"I":-0.050},{"c":15,"i":38,"E":-0.8,"I":-0.055},
{"c":16,"i":1,"E":-0.8,"I":-0.040},{"c":16,"i":2,"E":-0.7,"I":-0.030},{"c":16,"i":3,"E":-0.6,"I":-0.025},{"c":16,"i":4,"E":-0.5,"I":-0.021},{"c":16,"i":5,"E":-0.4,"I":-0.013},{"c":16,"i":6,"E":-0.3,"I":0.000},{"c":16,"i":7,"E":-0.2,"I":0.006},{"c":16,"i":8,"E":0,"I":0.008},{"c":16,"i":9,"E":0.2,"I":0.012},{"c":16,"i":10,"E":0.4,"I":0.022},{"c":16,"i":11,"E":0.5,"I":0.036},{"c":16,"i":12,"E":0.6,"I":0.062},{"c":16,"i":13,"E":0.65,"I":0.081},{"c":16,"i":14,"E":0.7,"I":0.109},{"c":16,"i":15,"E":0.725,"I":0.132},{"c":16,"i":16,"E":0.75,"I":0.162},{"c":16,"i":17,"E":0.775,"I":0.21},{"c":16,"i":18,"E":0.8,"I":0.28},
{"c":16,"i":19,"E":0.8,"I":0.185},{"c":16,"i":20,"E":0.79,"I":0.148},{"c":16,"i":21,"E":0.775,"I":0.118},{"c":16,"i":22,"E":0.75,"I":0.087},{"c":16,"i":23,"E":0.725,"I":0.065},{"c":16,"i":24,"E":0.7,"I":0.048},{"c":16,"i":25,"E":0.65,"I":0.028},{"c":16,"i":26,"E":0.6,"I":0.015},{"c":16,"i":27,"E":0.5,"I":0.005},{"c":16,"i":28,"E":0.3,"I":0.000},{"c":16,"i":29,"E":0,"I":-0.003},{"c":16,"i":30,"E":-0.2,"I":-0.008},{"c":16,"i":30.5,"E":-0.25,"I":-0.016},{"c":16,"i":31,"E":-0.3,"I":-0.029},{"c":16,"i":32,"E":-0.35,"I":-0.048},{"c":16,"i":33,"E":-0.4,"I":-0.058},{"c":16,"i":34,"E":-0.45,"I":-0.064},{"c":16,"i":35,"E":-0.5,"I":-0.059},{"c":16,"i":36,"E":-0.6,"I":-0.050},{"c":16,"i":37,"E":-0.7,"I":-0.052},{"c":16,"i":38,"E":-0.8,"I":-0.057},
{"c":17,"i":1,"E":-0.8,"I":-0.026},{"c":17,"i":2,"E":-0.7,"I":-0.016},{"c":17,"i":3,"E":-0.6,"I":-0.012},{"c":17,"i":4,"E":-0.5,"I":-0.007},{"c":17,"i":5,"E":-0.4,"I":0.003},{"c":17,"i":6,"E":-0.3,"I":0.016},{"c":17,"i":7,"E":-0.2,"I":0.020},{"c":17,"i":8,"E":0,"I":0.020},{"c":17,"i":9,"E":0.2,"I":0.023},{"c":17,"i":10,"E":0.4,"I":0.047},{"c":17,"i":11,"E":0.5,"I":0.074},{"c":17,"i":12,"E":0.6,"I":0.113},{"c":17,"i":13,"E":0.65,"I":0.138},{"c":17,"i":14,"E":0.7,"I":0.168},{"c":17,"i":15,"E":0.725,"I":0.187},{"c":17,"i":16,"E":0.75,"I":0.209},{"c":17,"i":17,"E":0.775,"I":0.239},{"c":17,"i":18,"E":0.8,"I":0.275},
{"c":17,"i":19,"E":0.8,"I":0.184},{"c":17,"i":20,"E":0.79,"I":0.147},{"c":17,"i":21,"E":0.775,"I":0.118},{"c":17,"i":22,"E":0.75,"I":0.086},{"c":17,"i":23,"E":0.725,"I":0.064},{"c":17,"i":24,"E":0.7,"I":0.048},{"c":17,"i":25,"E":0.65,"I":0.028},{"c":17,"i":26,"E":0.6,"I":0.015},{"c":17,"i":27,"E":0.5,"I":0.008},{"c":17,"i":28,"E":0.3,"I":0.004},{"c":17,"i":29,"E":0,"I":0.001},{"c":17,"i":30,"E":-0.2,"I":-0.004},{"c":17,"i":30.5,"E":-0.25,"I":-0.011},{"c":17,"i":31,"E":-0.3,"I":-0.024},{"c":17,"i":32,"E":-0.35,"I":-0.040},{"c":17,"i":33,"E":-0.4,"I":-0.050},{"c":17,"i":34,"E":-0.45,"I":-0.056},{"c":17,"i":35,"E":-0.5,"I":-0.051},{"c":17,"i":36,"E":-0.6,"I":-0.043},{"c":17,"i":37,"E":-0.7,"I":-0.045},{"c":17,"i":38,"E":-0.8,"I":-0.050},
{"c":18,"i":1,"E":-0.8,"I":-0.036},{"c":18,"i":2,"E":-0.7,"I":-0.026},{"c":18,"i":3,"E":-0.6,"I":-0.021},{"c":18,"i":4,"E":-0.5,"I":-0.016},{"c":18,"i":5,"E":-0.4,"I":-0.008},{"c":18,"i":6,"E":-0.3,"I":0.005},{"c":18,"i":7,"E":-0.2,"I":0.011},{"c":18,"i":8,"E":0,"I":0.012},{"c":18,"i":9,"E":0.2,"I":0.016},{"c":18,"i":10,"E":0.4,"I":0.032},{"c":18,"i":11,"E":0.5,"I":0.054},{"c":18,"i":12,"E":0.6,"I":0.084},{"c":18,"i":13,"E":0.65,"I":0.105},{"c":18,"i":14,"E":0.7,"I":0.135},{"c":18,"i":15,"E":0.725,"I":0.157},{"c":18,"i":16,"E":0.75,"I":0.184},{"c":18,"i":17,"E":0.775,"I":0.221},{"c":18,"i":18,"E":0.8,"I":0.27},
{"c":18,"i":19,"E":0.8,"I":0.183},{"c":18,"i":20,"E":0.79,"I":0.146},{"c":18,"i":21,"E":0.775,"I":0.117},{"c":18,"i":22,"E":0.75,"I":0.086},{"c":18,"i":23,"E":0.725,"I":0.064},{"c":18,"i":24,"E":0.7,"I":0.048},{"c":18,"i":25,"E":0.65,"I":0.027},{"c":18,"i":26,"E":0.6,"I":0.015},{"c":18,"i":27,"E":0.5,"I":0.007},{"c":18,"i":28,"E":0.3,"I":0.002},{"c":18,"i":29,"E":0,"I":0.000},{"c":18,"i":30,"E":-0.2,"I":-0.005},{"c":18,"i":30.5,"E":-0.25,"I":-0.013},{"c":18,"i":31,"E":-0.3,"I":-0.025},{"c":18,"i":32,"E":-0.35,"I":-0.043},{"c":18,"i":33,"E":-0.4,"I":-0.052},{"c":18,"i":34,"E":-0.45,"I":-0.058},{"c":18,"i":35,"E":-0.5,"I":-0.054},{"c":18,"i":36,"E":-0.6,"I":-0.045},{"c":18,"i":37,"E":-0.7,"I":-0.047},{"c":18,"i":38,"E":-0.8,"I":-0.052},
{"c":19,"i":1,"E":-0.8,"I":-0.030},{"c":19,"i":2,"E":-0.7,"I":-0.020},{"c":19,"i":3,"E":-0.6,"I":-0.015},{"c":19,"i":4,"E":-0.5,"I":-0.010},{"c":19,"i":5,"E":-0.4,"I":-0.001},{"c":19,"i":6,"E":-0.3,"I":0.013},{"c":19,"i":7,"E":-0.2,"I":0.017},{"c":19,"i":8,"E":0,"I":0.017},{"c":19,"i":9,"E":0.2,"I":0.020},{"c":19,"i":10,"E":0.4,"I":0.021},{"c":19,"i":11,"E":0.5,"I":0.035},{"c":19,"i":12,"E":0.6,"I":0.058},{"c":19,"i":13,"E":0.65,"I":0.077},{"c":19,"i":14,"E":0.7,"I":0.103},{"c":19,"i":15,"E":0.725,"I":0.125},{"c":19,"i":16,"E":0.75,"I":0.154},{"c":19,"i":17,"E":0.775,"I":0.199},{"c":19,"i":18,"E":0.8,"I":0.265},
{"c":19,"i":19,"E":0.8,"I":0.183},{"c":19,"i":20,"E":0.79,"I":0.147},{"c":19,"i":21,"E":0.775,"I":0.116},{"c":19,"i":22,"E":0.75,"I":0.085},{"c":19,"i":23,"E":0.725,"I":0.063},{"c":19,"i":24,"E":0.7,"I":0.047},{"c":19,"i":25,"E":0.65,"I":0.027},{"c":19,"i":26,"E":0.6,"I":0.014},{"c":19,"i":27,"E":0.5,"I":0.011},{"c":19,"i":28,"E":0.3,"I":0.007},{"c":19,"i":29,"E":0,"I":0.004},{"c":19,"i":30,"E":-0.2,"I":-0.001},{"c":19,"i":30.5,"E":-0.25,"I":-0.008},{"c":19,"i":31,"E":-0.3,"I":-0.020},{"c":19,"i":32,"E":-0.35,"I":-0.035},{"c":19,"i":33,"E":-0.4,"I":-0.045},{"c":19,"i":34,"E":-0.45,"I":-0.051},{"c":19,"i":35,"E":-0.5,"I":-0.046},{"c":19,"i":36,"E":-0.6,"I":-0.038},{"c":19,"i":37,"E":-0.7,"I":-0.040},{"c":19,"i":38,"E":-0.8,"I":-0.045},
{"c":20,"i":1,"E":-0.8,"I":-0.033},{"c":20,"i":2,"E":-0.7,"I":-0.023},{"c":20,"i":3,"E":-0.6,"I":-0.018},{"c":20,"i":4,"E":-0.5,"I":-0.013},{"c":20,"i":5,"E":-0.4,"I":-0.004},{"c":20,"i":6,"E":-0.3,"I":0.009},{"c":20,"i":7,"E":-0.2,"I":0.014},{"c":20,"i":8,"E":0,"I":0.015},{"c":20,"i":9,"E":0.2,"I":0.018},{"c":20,"i":10,"E":0.4,"I":0.031},{"c":20,"i":11,"E":0.5,"I":0.052},{"c":20,"i":12,"E":0.6,"I":0.081},{"c":20,"i":13,"E":0.65,"I":0.101},{"c":20,"i":14,"E":0.7,"I":0.13},{"c":20,"i":15,"E":0.725,"I":0.151},{"c":20,"i":16,"E":0.75,"I":0.177},{"c":20,"i":17,"E":0.775,"I":0.213},{"c":20,"i":18,"E":0.8,"I":0.26},
{"c":20,"i":19,"E":0.8,"I":0.182},{"c":20,"i":20,"E":0.79,"I":0.146},{"c":20,"i":21,"E":0.775,"I":0.116},{"c":20,"i":22,"E":0.75,"I":0.086},{"c":20,"i":23,"E":0.725,"I":0.064},{"c":20,"i":24,"E":0.7,"I":0.047},{"c":20,"i":25,"E":0.65,"I":0.027},{"c":20,"i":26,"E":0.6,"I":0.015},{"c":20,"i":27,"E":0.5,"I":0.012},{"c":20,"i":28,"E":0.3,"I":0.008},{"c":20,"i":29,"E":0,"I":0.005},{"c":20,"i":30,"E":-0.2,"I":0.000},{"c":20,"i":30.5,"E":-0.25,"I":-0.007},{"c":20,"i":31,"E":-0.3,"I":-0.018},{"c":20,"i":32,"E":-0.35,"I":-0.033},{"c":20,"i":33,"E":-0.4,"I":-0.042},{"c":20,"i":34,"E":-0.45,"I":-0.048},{"c":20,"i":35,"E":-0.5,"I":-0.043},{"c":20,"i":36,"E":-0.6,"I":-0.035},{"c":20,"i":37,"E":-0.7,"I":-0.037},{"c":20,"i":38,"E":-0.8,"I":-0.042}
]},
 "mark":{"type":"line","strokeWidth":1.25,"clip":true},
 "encoding":{
  "x":{"field":"E","type":"quantitative","scale":{"domain":[-1,1],"nice":false,"zero":false},
   "axis":{"orient":"bottom","values":[-1,-0.8,-0.6,-0.4,-0.2,0,0.2,0.4,0.6,0.8,1],"labelExpr":"replace(format(datum.value,'.1f'),'−','-')","tickSize":7,"tickWidth":1.5,"tickColor":"black","domainWidth":1.5,"domainColor":"black","labelFontSize":16,"labelColor":"black","labelPadding":7,"labelFlush":false,"labelOverlap":false,"grid":false,"title":"E(V)","titleFontSize":20,"titleFontWeight":"normal","titleColor":"black","titleY":63,"titleBaseline":"alphabetic"}},
  "y":{"field":"I","type":"quantitative","scale":{"domain":[-0.4,0.8],"nice":false,"zero":false},
   "axis":{"orient":"left","values":[-0.4,-0.2,0,0.2,0.4,0.6,0.8],"labelExpr":"replace(format(datum.value,'.1f'),'−','-')","tickSize":7,"tickWidth":1.5,"tickColor":"black","domainWidth":1.5,"domainColor":"black","labelFontSize":16,"labelColor":"black","labelPadding":8,"labelFlush":false,"labelOverlap":false,"grid":false,"title":"B (<I>/mA)","titleFontSize":20,"titleFontWeight":"normal","titleColor":"black","titleX":-54,"titleY":227.5,"titleAngle":-90,"titleAlign":"center","titleBaseline":"bottom"}},
  "detail":{"field":"c","type":"nominal"},
  "order":{"field":"i","type":"quantitative"},
  "color":{"datum":"netoyage NAOH.20 Cycles","scale":{"range":["black"]},
   "legend":{"orient":"none","legendX":145,"legendY":14,"title":null,"strokeColor":"black","fillColor":"white","padding":3,"symbolType":"M-1,0H3.6","symbolSize":400,"symbolStrokeWidth":1,"symbolStrokeColor":"black","labelFontSize":21,"labelColor":"black","labelOffset":34,"labelLimit":600,"labelFont":"Liberation Sans"}}
 }}
]
}
